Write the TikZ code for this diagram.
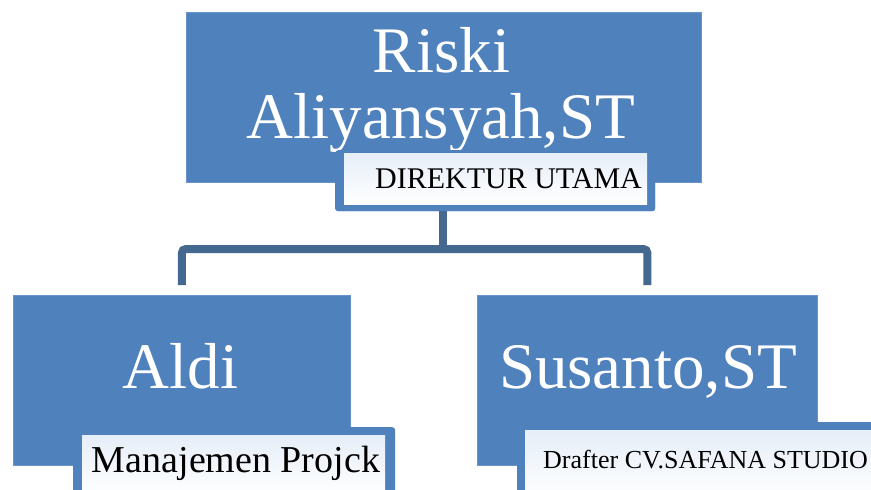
\documentclass[tikz,border=0pt]{standalone}
\usepackage{fontspec}
\setmainfont{LiberationSerif}[Extension=.ttf, UprightFont=*-Regular, BoldFont=*-Bold]
\definecolor{boxblue}{HTML}{4F81BD}
\definecolor{linkblue}{HTML}{44688F}
\definecolor{paleblue}{HTML}{E6EEF8}
\begin{document}
\begin{tikzpicture}[x=1pt,y=-1pt,
  box/.style={fill=boxblue, draw=boxblue!85!white, line width=0.8pt, inner sep=0pt, anchor=north west},
  labout/.style={fill=boxblue, rounded corners=3pt, inner sep=0pt, anchor=north west},
  labin/.style={top color=paleblue, bottom color=white, middle color=paleblue!50!white, inner sep=0pt, anchor=north west},
  link/.style={draw=linkblue, line width=8pt, rounded corners=4pt},
  bigtxt/.style={text=white, inner sep=0pt, anchor=base, font=\rmfamily\fontsize{65}{66}\selectfont},
  smalltxt/.style={text=black, inner sep=0pt, anchor=base}]
\useasboundingbox (0,0) rectangle (871,490);
\fill[white] (0,0) rectangle (871,490);
\clip (0,0) rectangle (871,490);
% boxes
\node[box, minimum width=515pt, minimum height=170pt] (top) at (186,12) {};
\node[box, minimum width=337pt, minimum height=170pt] (left) at (13,295) {};
\node[box, minimum width=340pt, minimum height=170pt] (right) at (477,295) {};
% label frames (outer)
\node[labout, minimum width=320pt, minimum height=61pt] (toplab) at (335,150) {};
\node[labout, minimum width=322pt, minimum height=75pt] (leftlab) at (73,427) {};
\node[labout, minimum width=400pt, minimum height=80pt] (rightlab) at (517,422) {};
% connectors
\coordinate (j) at (443,249);
\draw[link] (j |- toplab.south) -- (j);
\draw[link] ([yshift=10pt]left.north) -- (left.north |- j) -- (right.north |- j) -- ([yshift=10pt]right.north);
% big names
\node[bigtxt] (t1) at (441.5,72) {Riski};
\node[bigtxt] (t2) at (441,138) {Aliyansyah,ST};
\node[bigtxt] (t3) at (180.5,388) {Aldi};
\node[bigtxt] (t4) at (648,388) {Susanto,ST};
% label frames redrawn on top of names
\node[labout, minimum width=320pt, minimum height=61pt] (toplab2) at (335,150) {};
\node[labin, minimum width=303pt, minimum height=51pt] (toplabin) at (344,153) {};
\node[labin, minimum width=303pt, minimum height=60pt] (leftlabin) at (82,435) {};
\node[labin, minimum width=400pt, minimum height=70pt] (rightlabin) at (525,430) {};
% label texts
\node[smalltxt, font=\rmfamily\fontsize{30}{32}\selectfont] (l1) at (508.5,188) {DIREKTUR UTAMA};
\node[smalltxt, font=\rmfamily\fontsize{38}{40}\selectfont] (l2) at (236,472) {Manajemen Projck};
\node[smalltxt, anchor=base west, font=\rmfamily\fontsize{26}{28}\selectfont] (l3) at (543,468) {Drafter CV.SAFANA STUDIO};
\end{tikzpicture}
\end{document}
